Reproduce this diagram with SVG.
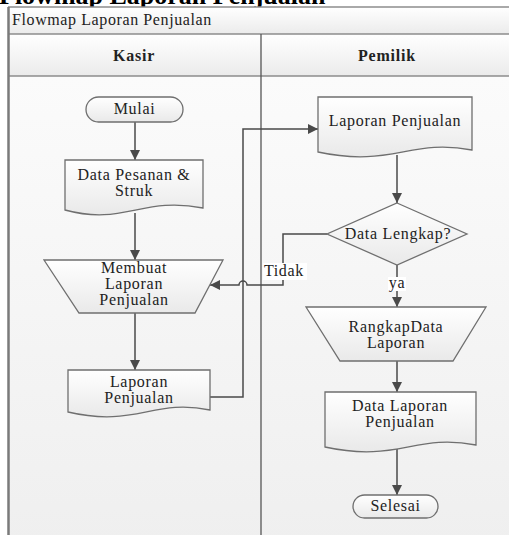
<svg xmlns="http://www.w3.org/2000/svg" width="509" height="535" viewBox="0 0 509 535">
  <defs>
    <linearGradient id="gShape" x1="0" y1="0" x2="0" y2="1">
      <stop offset="0" stop-color="#ffffff"/>
      <stop offset="1" stop-color="#e9e9e9"/>
    </linearGradient>
    <linearGradient id="gBar" x1="0" y1="0" x2="0" y2="1">
      <stop offset="0" stop-color="#ffffff"/>
      <stop offset="1" stop-color="#ebebeb"/>
    </linearGradient>
    <linearGradient id="gLane" x1="0" y1="0" x2="0" y2="1">
      <stop offset="0" stop-color="#fbfbfb"/>
      <stop offset="1" stop-color="#efefef"/>
    </linearGradient>
    <marker id="arrow" viewBox="0 0 10 10" refX="10" refY="5" markerWidth="10" markerHeight="10" markerUnits="userSpaceOnUse" orient="auto">
      <path d="M0,0 L10,5 L0,10 Z" fill="#4a4a4a"/>
    </marker>
    <style>
      .shape { fill: url(#gShape); stroke: #6f6f6f; stroke-width: 1.3; }
      .txt { font-family: "Liberation Serif", "Times New Roman", serif; font-size: 16px; letter-spacing: 0.7px; fill: #222; text-anchor: middle; }
      .hdr { font-family: "Liberation Serif", "Times New Roman", serif; font-size: 16px; font-weight: bold; letter-spacing: 0.8px; fill: #222; text-anchor: middle; }
      .edge { fill: none; stroke: #4a4a4a; stroke-width: 1.5; }
      .frame { fill: none; stroke: #8c8c8c; stroke-width: 1.3; }
      .lbl { font-family: "Liberation Serif", "Times New Roman", serif; font-size: 16px; letter-spacing: 0.6px; fill: #222; }
    </style>
  </defs>

  <!-- page -->
  <rect x="0" y="0" width="509" height="535" fill="#ffffff"/>
  <text x="-1" y="4" font-family="Liberation Serif, Times New Roman, serif" font-size="26" font-weight="bold" fill="#000">Flowmap Laporan Penjualan</text>

  <!-- swimlane pool -->
  <g id="pool">
    <rect x="8" y="76" width="510" height="470" fill="url(#gLane)"/>
    <rect x="8" y="7" width="510" height="27" fill="url(#gBar)"/>
    <rect x="8" y="34" width="510" height="42" fill="url(#gBar)"/>
    <line x1="8" y1="7" x2="509" y2="7" class="frame"/>
    <line x1="8" y1="34" x2="509" y2="34" class="frame"/>
    <line x1="8" y1="76" x2="509" y2="76" class="frame"/>
    <line x1="261" y1="34" x2="261" y2="535" stroke="#555" stroke-width="1.3"/>
    <line x1="8.5" y1="7" x2="8.5" y2="535" stroke="#7a7a7a" stroke-width="2.5"/>
    <text x="12" y="25" class="lbl">Flowmap Laporan Penjualan</text>
    <text x="134" y="61" class="hdr">Kasir</text>
    <text x="387" y="61" class="hdr">Pemilik</text>
  </g>

  <!-- connectors -->
  <g id="connectors">
    <line x1="135" y1="122" x2="135" y2="160" class="edge" marker-end="url(#arrow)"/>
    <line x1="135" y1="213" x2="135" y2="260" class="edge" marker-end="url(#arrow)"/>
    <line x1="135" y1="313" x2="135" y2="370" class="edge" marker-end="url(#arrow)"/>
    <path d="M210,397 H243 V129 H318" class="edge" marker-end="url(#arrow)"/>
    <line x1="397" y1="155" x2="397" y2="203" class="edge" marker-end="url(#arrow)"/>
    <path d="M327,234 H283 V285 H247 A4,4 0 0 0 239,285 H210" class="edge" marker-end="url(#arrow)"/>
    <line x1="397" y1="265" x2="397" y2="307" class="edge" marker-end="url(#arrow)"/>
    <line x1="397" y1="361" x2="397" y2="392" class="edge" marker-end="url(#arrow)"/>
    <line x1="397" y1="449" x2="397" y2="495" class="edge" marker-end="url(#arrow)"/>
    <rect x="263" y="263" width="44" height="17" fill="#ffffff"/>
    <text x="264" y="276" class="lbl">Tidak</text>
    <rect x="388" y="277" width="18" height="14" fill="#ffffff"/>
    <text x="397" y="288" class="txt">ya</text>
  </g>

  <!-- Kasir lane -->
  <g id="mulai">
    <rect x="86" y="97" width="97" height="25" rx="12.5" class="shape"/>
    <text x="134.5" y="114" class="txt">Mulai</text>
  </g>
  <g id="data-pesanan">
    <path d="M65,160 H203 V208 C142,196 124,226 65,210 Z" class="shape"/>
    <text x="134" y="180" class="txt">Data Pesanan &amp;</text>
    <text x="134" y="196" class="txt">Struk</text>
  </g>
  <g id="membuat-laporan">
    <path d="M44,260 H223 L195,313 H79 Z" class="shape"/>
    <text x="134" y="273" class="txt">Membuat</text>
    <text x="134" y="289" class="txt">Laporan</text>
    <text x="134" y="305" class="txt">Penjualan</text>
  </g>
  <g id="laporan-kasir">
    <path d="M68,370 H210 V410 C153,398 136,428 68,412 Z" class="shape"/>
    <text x="139" y="387" class="txt">Laporan</text>
    <text x="139" y="403" class="txt">Penjualan</text>
  </g>

  <!-- Pemilik lane -->
  <g id="laporan-pemilik">
    <path d="M318,97 H472 V150 C410,138 392,168 318,152 Z" class="shape"/>
    <text x="395" y="126" class="txt">Laporan Penjualan</text>
  </g>
  <g id="data-lengkap">
    <path d="M397,203 L467,234 L397,265 L327,234 Z" class="shape"/>
    <text x="398" y="239" class="txt">Data Lengkap?</text>
  </g>
  <g id="rangkap-data">
    <path d="M306,307 H486 L453,361 H340 Z" class="shape"/>
    <text x="396" y="332" class="txt">RangkapData</text>
    <text x="396" y="348" class="txt">Laporan</text>
  </g>
  <g id="data-laporan">
    <path d="M325,392 H476 V445 C415,433 398,463 325,447 Z" class="shape"/>
    <text x="400" y="411" class="txt">Data Laporan</text>
    <text x="400" y="427" class="txt">Penjualan</text>
  </g>
  <g id="selesai">
    <rect x="353" y="495" width="85" height="23" rx="11.5" class="shape"/>
    <text x="395.5" y="511" class="txt" letter-spacing="1.5">Selesai</text>
  </g>
</svg>
